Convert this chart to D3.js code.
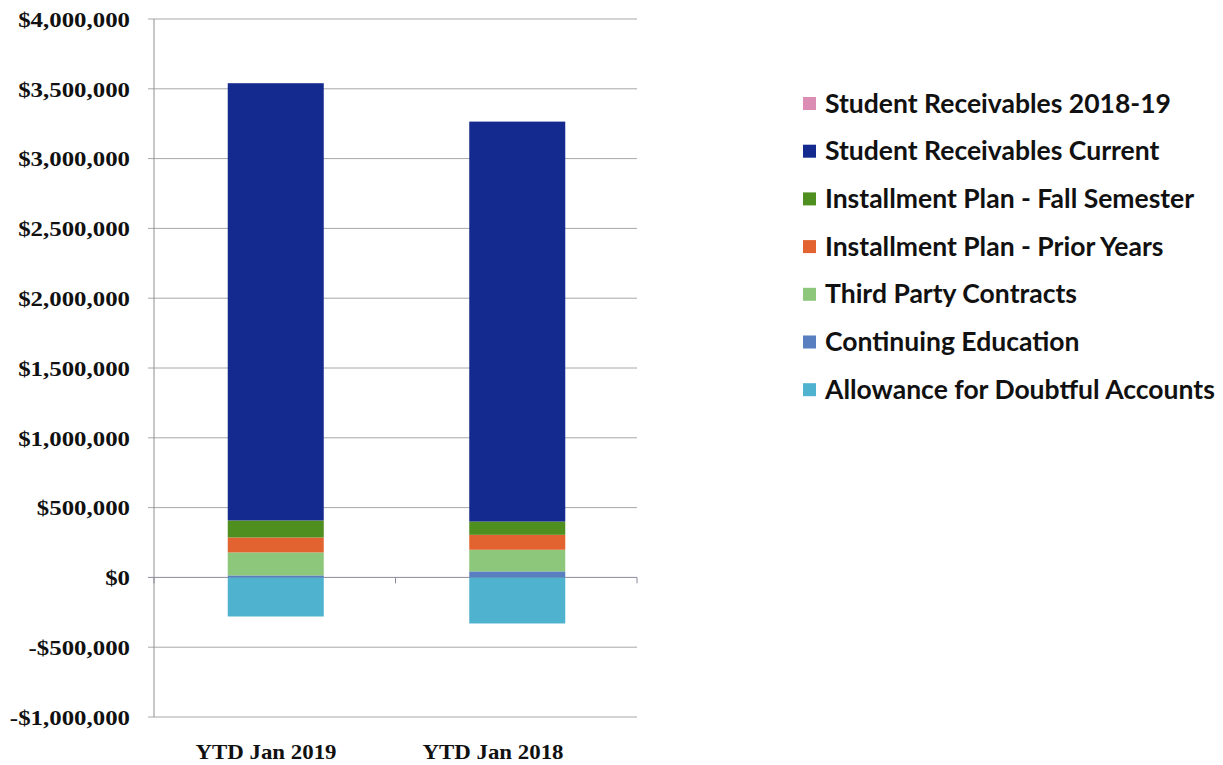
<!DOCTYPE html>
<html><head><meta charset="utf-8">
<script src="https://cdn.jsdelivr.net/npm/d3@7"></script>
<style>body{margin:0;background:#fff}svg{display:block}</style>
</head><body><svg id="c" width="1223" height="765"></svg>
<script>
const categories = ["YTD Jan 2019", "YTD Jan 2018"];
const seriesNames = ["Allowance for Doubtful Accounts","Continuing Education","Third Party Contracts","Installment Plan - Prior Years","Installment Plan - Fall Semester","Student Receivables Current","Student Receivables 2018-19"];
const allowance = [-280000, -330000];
const continuingEd = [14000, 43000];
const thirdParty = [165000, 155000];
const priorYears = [107000, 107000];
const fallSemester = [122000, 95000];
const current = [3132000, 2865000];
const receivables1819 = [0, 0];
const colors = ["#4fb2cf","#5a7fc0","#8dc77b","#e2632f","#4f8f1f","#152a8e","#dc8db3"];
const yTicks = [-1000000,-500000,0,500000,1000000,1500000,2000000,2500000,3000000,3500000,4000000];
const legendOrder = ["Student Receivables 2018-19","Student Receivables Current","Installment Plan - Fall Semester","Installment Plan - Prior Years","Third Party Contracts","Continuing Education","Allowance for Doubtful Accounts"];

const valuesBySeries = [allowance, continuingEd, thirdParty, priorYears, fallSemester, current, receivables1819];
const rows = categories.map((c,i)=>{const r={cat:c}; seriesNames.forEach((s,j)=>r[s]=valuesBySeries[j][i]); return r;});

const svg = d3.select("#c");
const L=154, R=637, T=19, B=717;
const x = d3.scaleBand().domain(categories).range([L,R]).paddingInner(0).paddingOuter(0);
const xLab = d3.scalePoint().domain(categories).range([266,493]);
const y = d3.scaleLinear().domain([-1000000,4000000]).range([B,T]);
const col = d3.scaleOrdinal().domain(seriesNames).range(colors);
const fmt = v => (v<0?"-":"")+"$"+d3.format(",")(Math.abs(v));
const serif = "Liberation Serif, Times New Roman, serif";

// gridlines
svg.append("g").selectAll("line").data(yTicks).join("line")
  .attr("x1",L-6).attr("x2",R).attr("y1",d=>y(d)).attr("y2",d=>y(d))
  .attr("stroke",d=>d===0?"#8a8a9a":"#a8a8a8").attr("stroke-width",1);
// y axis line
svg.append("line").attr("x1",L).attr("x2",L).attr("y1",T).attr("y2",B).attr("stroke","#909090");
// y labels (slightly wide glyphs as in the scan)
svg.append("g").selectAll("text").data(yTicks).join("text")
  .attr("transform",d=>`translate(130,${y(d)}) scale(1.13,1)`)
  .attr("dy","0.35em").attr("text-anchor","end")
  .attr("font-family",serif).attr("font-weight","bold")
  .attr("font-size",22).attr("fill","#111").text(fmt);

// bars
const stack = d3.stack().keys(seriesNames).offset(d3.stackOffsetDiverging);
const stacked = stack(rows);
const bw = 96;
svg.append("g").selectAll("g").data(stacked).join("g").attr("fill",d=>col(d.key))
  .selectAll("rect").data(d=>d).join("rect")
  .attr("x",d=>x(d.data.cat)+x.bandwidth()/2-bw/2+1).attr("width",bw)
  .attr("y",d=>y(Math.max(d[0],d[1]))).attr("height",d=>Math.abs(y(d[0])-y(d[1])));

// category ticks on zero axis
svg.append("g").selectAll("line").data([L, L+x.bandwidth(), R]).join("line")
  .attr("x1",d=>d).attr("x2",d=>d).attr("y1",y(0)).attr("y2",y(0)+6).attr("stroke","#8a8a9a");

// x labels
svg.append("g").selectAll("text").data(categories).join("text")
  .attr("transform",d=>`translate(${xLab(d)},759) scale(1.04,1)`).attr("text-anchor","middle")
  .attr("font-family",serif).attr("font-weight","bold")
  .attr("font-size",22).attr("fill","#111").text(d=>d);

// legend
const lg = svg.append("g");
legendOrder.forEach((name,i)=>{
  const cy = 103 + i*47.7;
  lg.append("rect").attr("x",803).attr("y",cy-6).attr("width",13).attr("height",13).attr("fill",col(name));
  lg.append("text").attr("x",825).attr("y",cy).attr("dy","0.36em")
    .attr("font-family","Lato, sans-serif").attr("font-weight","bold").attr("font-size",22)
    .attr("fill","#111").attr("class","lt").text(name);
});
const longest = lg.selectAll("text.lt").nodes().find(n=>n.textContent.startsWith("Allowance"));
const w = longest.getComputedTextLength();
lg.selectAll("text.lt").attr("font-size",22*390/w);
</script></body></html>
